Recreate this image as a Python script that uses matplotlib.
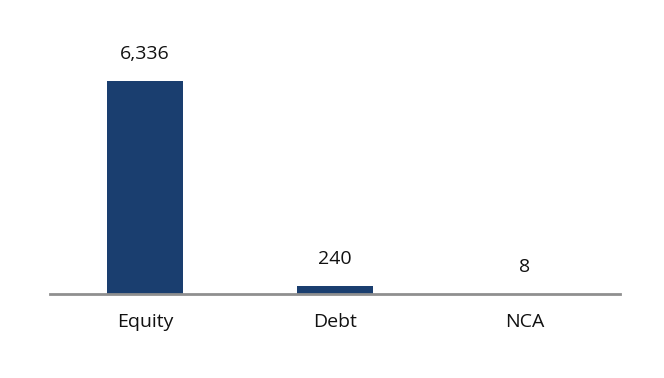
import matplotlib
matplotlib.use("Agg")
import matplotlib.pyplot as plt

categories = ["Equity", "Debt", "NCA"]
values = [6336, 240, 8]
value_labels = ["6,336", "240", "8"]

plt.rcParams['font.family'] = ['Open Sans', 'DejaVu Sans']

fig = plt.figure(figsize=(6.64, 3.78), dpi=100)
ax = fig.add_axes([50/664, (378-294)/378, 570/664, 274/378])

x = range(len(categories))
bars = ax.bar(x, values, width=0.4, color="#1a3e6f")
ax.set_xlim(-0.5, 2.5)
ax.set_ylim(0, 8150)

for xi, v, lab in zip(x, values, value_labels):
    ax.annotate(lab, (xi, v), xytext=(0, 13), textcoords="offset points",
                ha="center", va="bottom", fontsize=14, color="#111111")

ax.set_xticks(list(x))
ax.set_xticklabels(categories, fontsize=14, color="#111111")
ax.tick_params(axis="x", length=0, pad=14)
ax.set_yticks([])
for s in ["top", "right", "left"]:
    ax.spines[s].set_visible(False)
ax.spines["bottom"].set_color("#8f8f8f")
ax.spines["bottom"].set_linewidth(2)

fig.savefig("out.png", dpi=100)
